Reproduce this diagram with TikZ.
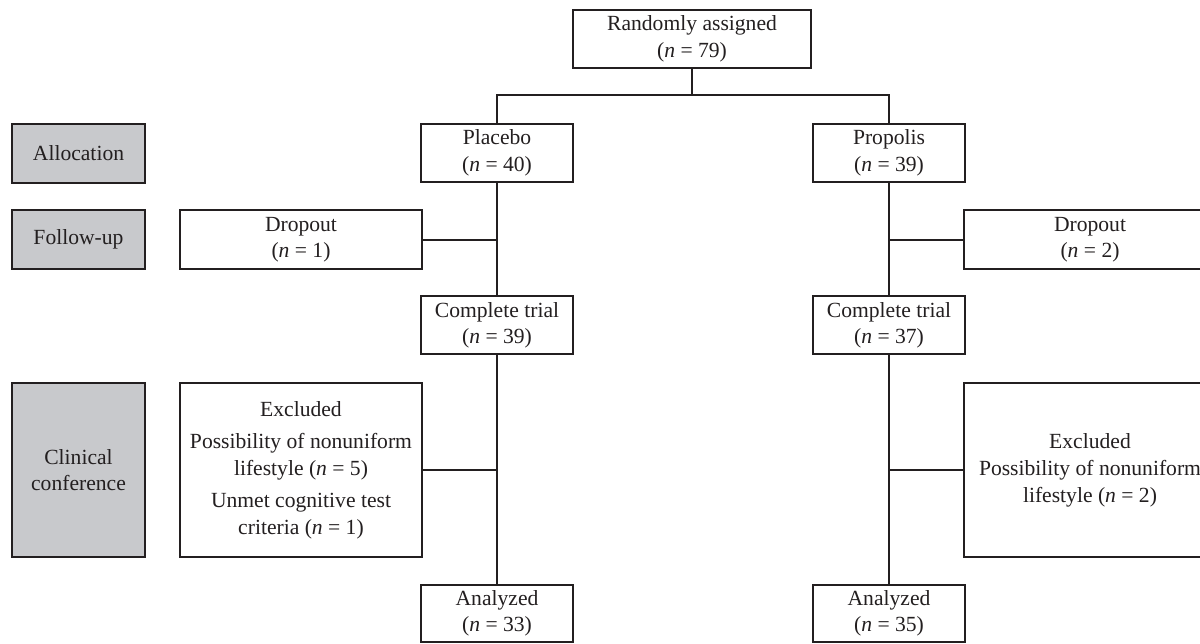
\documentclass[tikz,border=0pt]{standalone}
\usepackage{fontspec}
\setmainfont{Liberation Serif}
\definecolor{greybox}{RGB}{200,201,204}
\definecolor{ink}{RGB}{35,31,32}
\newcommand\diagfont{\fontsize{16.2}{19.8}\selectfont}
\begin{document}
\begin{tikzpicture}[x=0.75pt,y=-0.75pt,
  box/.style={draw=ink, line width=1.5pt, fill=white, inner sep=0pt, align=center, text=ink, font=\diagfont},
  gbox/.style={box, fill=greybox},
  colbox/.style={box, minimum width=114pt, minimum height=43.5pt},
  sidebox/.style={box, minimum width=181.5pt},
  conn/.style={draw=ink, line width=1.5pt, line join=miter},
  thick conn/.style={conn, line width=2.1pt}]
\useasboundingbox (0,0) rectangle (1200,643);

% top
\node[box, minimum width=178.5pt, minimum height=43.5pt] (rand) at (692,39) {Randomly assigned\\(\textit{n} = 79)};

% stage labels
\node[gbox, minimum width=99.75pt, minimum height=44.25pt] (alloc) at (78.5,153.5) {Allocation};
\node[gbox, minimum width=99.75pt, minimum height=44.25pt] (follow) at (78.5,239.5) {Follow-up};
\node[gbox, minimum width=99.75pt, minimum height=130.5pt] (clin) at (78.5,470) {Clinical\\conference};

% placebo column
\node[colbox] (placebo) at (497,153) {Placebo\\(\textit{n} = 40)};
\node[colbox] (ct1) at (497,325) {Complete trial\\(\textit{n} = 39)};
\node[colbox, minimum height=42.75pt] (an1) at (497,613.5) {Analyzed\\(\textit{n} = 33)};

% propolis column
\node[colbox] (propolis) at (889,153) {Propolis\\(\textit{n} = 39)};
\node[colbox] (ct2) at (889,325) {Complete trial\\(\textit{n} = 37)};
\node[colbox, minimum height=42.75pt] (an2) at (889,613.5) {Analyzed\\(\textit{n} = 35)};

% side boxes
\node[sidebox, minimum height=44.25pt] (drop1) at (301,239.5) {Dropout\\(\textit{n} = 1)};
\node[sidebox, minimum height=44.25pt, minimum width=189pt] (drop2) at (1090,239.5) {Dropout\\(\textit{n} = 2)};
\node[sidebox, minimum height=130.5pt] (ex1) at (301,470) {Excluded\\[4.5pt]Possibility of nonuniform\\lifestyle (\textit{n} = 5)\\[4.5pt]Unmet cognitive test\\criteria (\textit{n} = 1)};
\node[sidebox, minimum height=130.5pt, minimum width=189pt] (ex2) at (1090,470) {Excluded\\[1pt]Possibility of nonuniform\\lifestyle (\textit{n} = 2)};

% connectors
\coordinate (split) at (692,95);
\draw[conn] (rand.south) -- (split);
\draw[conn] (placebo.north) |- (split) -| (propolis.north);

\draw[conn] (placebo.south) -- (ct1.north);
\draw[conn] (ct1.south) -- (an1.north);
\draw[thick conn] (propolis.south) -- (ct2.north);
\draw[thick conn] (ct2.south) -- (an2.north);

\draw[conn] (drop1.east) -- (drop1.east -| placebo.south);
\draw[conn] (ex1.east) -- (ex1.east -| placebo.south);
\draw[conn] (drop2.west) -- (drop2.west -| propolis.south);
\draw[conn] (ex2.west) -- (ex2.west -| propolis.south);
\end{tikzpicture}
\end{document}
